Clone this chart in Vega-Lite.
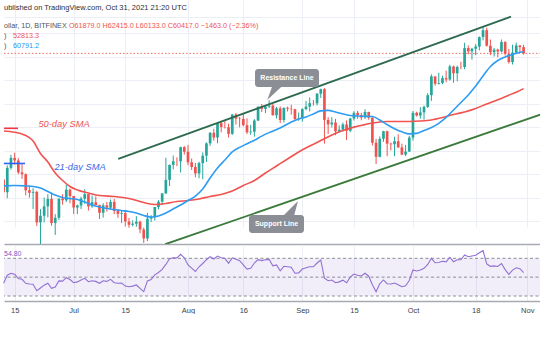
{
  "$schema": "https://vega.github.io/schema/vega-lite/v6.json",
  "padding": 0,
  "background": "white",
  "spacing": 2,
  "bounds": "flush",
  "config": {"view": {"stroke": null}, "font": "Liberation Sans"},
  "resolve": {"scale": {"x": "independent", "y": "independent"}},
  "datasets": {
    "candles": [
      {"d":"2021-06-12","o":37330,"h":37450,"l":34600,"c":35550,"r":43.5},
      {"d":"2021-06-13","o":35550,"h":39390,"l":34760,"c":39020,"r":52},
      {"d":"2021-06-14","o":39020,"h":41000,"l":38750,"c":40530,"r":54},
      {"d":"2021-06-15","o":40530,"h":41330,"l":39510,"c":40140,"r":53},
      {"d":"2021-06-16","o":40140,"h":40500,"l":38120,"c":38350,"r":48.5},
      {"d":"2021-06-17","o":38350,"h":39560,"l":37400,"c":38090,"r":47.7},
      {"d":"2021-06-18","o":38090,"h":38200,"l":35130,"c":35820,"r":43.5},
      {"d":"2021-06-19","o":35820,"h":36460,"l":34820,"c":35480,"r":42.8},
      {"d":"2021-06-20","o":35480,"h":36100,"l":33350,"c":35600,"r":42.5},
      {"d":"2021-06-21","o":35600,"h":35740,"l":31260,"c":31680,"r":35.6},
      {"d":"2021-06-22","o":31680,"h":33330,"l":28800,"c":32500,"r":38.5},
      {"d":"2021-06-23","o":32500,"h":34840,"l":31700,"c":33690,"r":41.5},
      {"d":"2021-06-24","o":33690,"h":35290,"l":32300,"c":34660,"r":43.5},
      {"d":"2021-06-25","o":34660,"h":35500,"l":31280,"c":31600,"r":38.2},
      {"d":"2021-06-26","o":31600,"h":32700,"l":30200,"c":32250,"r":39.5},
      {"d":"2021-06-27","o":32250,"h":34700,"l":32000,"c":34700,"r":46},
      {"d":"2021-06-28","o":34700,"h":35280,"l":33900,"c":34480,"r":45.8},
      {"d":"2021-06-29","o":34480,"h":36600,"l":34240,"c":35900,"r":49.4},
      {"d":"2021-06-30","o":35900,"h":36060,"l":34080,"c":35040,"r":47.5},
      {"d":"2021-07-01","o":35040,"h":35040,"l":32720,"c":33540,"r":44.1},
      {"d":"2021-07-02","o":33540,"h":33920,"l":32700,"c":33800,"r":45},
      {"d":"2021-07-03","o":33800,"h":34950,"l":33350,"c":34690,"r":47},
      {"d":"2021-07-04","o":34690,"h":35950,"l":34000,"c":35290,"r":48.8},
      {"d":"2021-07-05","o":35290,"h":35290,"l":33150,"c":33690,"r":45.2},
      {"d":"2021-07-06","o":33690,"h":35100,"l":33500,"c":34220,"r":46.2},
      {"d":"2021-07-07","o":34220,"h":35000,"l":33800,"c":33860,"r":45.5},
      {"d":"2021-07-08","o":33860,"h":33900,"l":32100,"c":32870,"r":43.5},
      {"d":"2021-07-09","o":32870,"h":34100,"l":32260,"c":33810,"r":46.2},
      {"d":"2021-07-10","o":33810,"h":34250,"l":33020,"c":33510,"r":45.5},
      {"d":"2021-07-11","o":33510,"h":34580,"l":33300,"c":34260,"r":47.7},
      {"d":"2021-07-12","o":34260,"h":34650,"l":32700,"c":33090,"r":44.1},
      {"d":"2021-07-13","o":33090,"h":33330,"l":32250,"c":32730,"r":43.5},
      {"d":"2021-07-14","o":32730,"h":33110,"l":31600,"c":32820,"r":43.8},
      {"d":"2021-07-15","o":32820,"h":33180,"l":31200,"c":31790,"r":40.5},
      {"d":"2021-07-16","o":31790,"h":32230,"l":31050,"c":31400,"r":39.8},
      {"d":"2021-07-17","o":31400,"h":31930,"l":31200,"c":31530,"r":40.5},
      {"d":"2021-07-18","o":31530,"h":32450,"l":31150,"c":31780,"r":41.7},
      {"d":"2021-07-19","o":31780,"h":31890,"l":30400,"c":30840,"r":38},
      {"d":"2021-07-20","o":30840,"h":31060,"l":29300,"c":29800,"r":34.6},
      {"d":"2021-07-21","o":29800,"h":32850,"l":29500,"c":32140,"r":46},
      {"d":"2021-07-22","o":32140,"h":32580,"l":31720,"c":32300,"r":47.5},
      {"d":"2021-07-23","o":32300,"h":33600,"l":31900,"c":33600,"r":52.5},
      {"d":"2021-07-24","o":33600,"h":34500,"l":33300,"c":34290,"r":55},
      {"d":"2021-07-25","o":34290,"h":35400,"l":33900,"c":35400,"r":58.3},
      {"d":"2021-07-26","o":35400,"h":40550,"l":35300,"c":37270,"r":63.5},
      {"d":"2021-07-27","o":37270,"h":39540,"l":36400,"c":39460,"r":69.5},
      {"d":"2021-07-28","o":39460,"h":40900,"l":38800,"c":40020,"r":70.6},
      {"d":"2021-07-29","o":40020,"h":40630,"l":39270,"c":40010,"r":70.4},
      {"d":"2021-07-30","o":40010,"h":42300,"l":38330,"c":42230,"r":74.2},
      {"d":"2021-07-31","o":42230,"h":42400,"l":41050,"c":41500,"r":70.5},
      {"d":"2021-08-01","o":41500,"h":42600,"l":39420,"c":39860,"r":63},
      {"d":"2021-08-02","o":39860,"h":40440,"l":38700,"c":39150,"r":59.5},
      {"d":"2021-08-03","o":39150,"h":39780,"l":37650,"c":38200,"r":56},
      {"d":"2021-08-04","o":38200,"h":39950,"l":37510,"c":39740,"r":61},
      {"d":"2021-08-05","o":39740,"h":41400,"l":37360,"c":40880,"r":64.5},
      {"d":"2021-08-06","o":40880,"h":43000,"l":39900,"c":42840,"r":68.5},
      {"d":"2021-08-07","o":42840,"h":44700,"l":42450,"c":44620,"r":71.7},
      {"d":"2021-08-08","o":44620,"h":45300,"l":43300,"c":43810,"r":69.3},
      {"d":"2021-08-09","o":43810,"h":46450,"l":42850,"c":46290,"r":72.4},
      {"d":"2021-08-10","o":46290,"h":46700,"l":44700,"c":45600,"r":70.5},
      {"d":"2021-08-11","o":45600,"h":46780,"l":45350,"c":45560,"r":70},
      {"d":"2021-08-12","o":45560,"h":46200,"l":43800,"c":44430,"r":64.7},
      {"d":"2021-08-13","o":44430,"h":47900,"l":44250,"c":47830,"r":70.5},
      {"d":"2021-08-14","o":47830,"h":48100,"l":46050,"c":47090,"r":69},
      {"d":"2021-08-15","o":47090,"h":47400,"l":45550,"c":47030,"r":67.5},
      {"d":"2021-08-16","o":47030,"h":48050,"l":45700,"c":45930,"r":63},
      {"d":"2021-08-17","o":45930,"h":47150,"l":44400,"c":44700,"r":58.6},
      {"d":"2021-08-18","o":44700,"h":46000,"l":44250,"c":44800,"r":59.5},
      {"d":"2021-08-19","o":44800,"h":47000,"l":43950,"c":46750,"r":65},
      {"d":"2021-08-20","o":46750,"h":49300,"l":46650,"c":49300,"r":68.5},
      {"d":"2021-08-21","o":49300,"h":49800,"l":48300,"c":48880,"r":67.5},
      {"d":"2021-08-22","o":48880,"h":49500,"l":48100,"c":49290,"r":68.5},
      {"d":"2021-08-23","o":49290,"h":50500,"l":49050,"c":49500,"r":68.9},
      {"d":"2021-08-24","o":49500,"h":49850,"l":47650,"c":47700,"r":62},
      {"d":"2021-08-25","o":47700,"h":49230,"l":47120,"c":48970,"r":63},
      {"d":"2021-08-26","o":48970,"h":49350,"l":46300,"c":46850,"r":56.8},
      {"d":"2021-08-27","o":46850,"h":49150,"l":46400,"c":49070,"r":61.5},
      {"d":"2021-08-28","o":49070,"h":49300,"l":48400,"c":48900,"r":61},
      {"d":"2021-08-29","o":48900,"h":49650,"l":47800,"c":48810,"r":60.5},
      {"d":"2021-08-30","o":48810,"h":48900,"l":46900,"c":46990,"r":54.1},
      {"d":"2021-08-31","o":46990,"h":48200,"l":46700,"c":47140,"r":54.5},
      {"d":"2021-09-01","o":47140,"h":49000,"l":46550,"c":48840,"r":58.6},
      {"d":"2021-09-02","o":48840,"h":50400,"l":48620,"c":49300,"r":60},
      {"d":"2021-09-03","o":49300,"h":51050,"l":48400,"c":49960,"r":61.1},
      {"d":"2021-09-04","o":49960,"h":50560,"l":49500,"c":49920,"r":61},
      {"d":"2021-09-05","o":49920,"h":51900,"l":49500,"c":51800,"r":65},
      {"d":"2021-09-06","o":51800,"h":52800,"l":50970,"c":52700,"r":68.2},
      {"d":"2021-09-07","o":52700,"h":52900,"l":42800,"c":46860,"r":48.8},
      {"d":"2021-09-08","o":46860,"h":47350,"l":44400,"c":46070,"r":46.2},
      {"d":"2021-09-09","o":46070,"h":47360,"l":45520,"c":46400,"r":47},
      {"d":"2021-09-10","o":46400,"h":47050,"l":44200,"c":44850,"r":44.1},
      {"d":"2021-09-11","o":44850,"h":45900,"l":44700,"c":45160,"r":45},
      {"d":"2021-09-12","o":45160,"h":46400,"l":44800,"c":46060,"r":46.8},
      {"d":"2021-09-13","o":46060,"h":46780,"l":43400,"c":44960,"r":44.1},
      {"d":"2021-09-14","o":44960,"h":47250,"l":44700,"c":47100,"r":50},
      {"d":"2021-09-15","o":47100,"h":48450,"l":46750,"c":48150,"r":53.3},
      {"d":"2021-09-16","o":48150,"h":48500,"l":47050,"c":47750,"r":52},
      {"d":"2021-09-17","o":47750,"h":48150,"l":46800,"c":47290,"r":51.2},
      {"d":"2021-09-18","o":47290,"h":48800,"l":47050,"c":48300,"r":54.1},
      {"d":"2021-09-19","o":48300,"h":48350,"l":46900,"c":47250,"r":51},
      {"d":"2021-09-20","o":47250,"h":47350,"l":42500,"c":42950,"r":42},
      {"d":"2021-09-21","o":42950,"h":43600,"l":39600,"c":40700,"r":34.6},
      {"d":"2021-09-22","o":40700,"h":44000,"l":40600,"c":43600,"r":43},
      {"d":"2021-09-23","o":43600,"h":44950,"l":43100,"c":44880,"r":47},
      {"d":"2021-09-24","o":44880,"h":45000,"l":40800,"c":42800,"r":43},
      {"d":"2021-09-25","o":42800,"h":42950,"l":41700,"c":42700,"r":42.7},
      {"d":"2021-09-26","o":42700,"h":43950,"l":40800,"c":43200,"r":43.8},
      {"d":"2021-09-27","o":43200,"h":44350,"l":42100,"c":42200,"r":42},
      {"d":"2021-09-28","o":42200,"h":42800,"l":40950,"c":41050,"r":39.9},
      {"d":"2021-09-29","o":41050,"h":42600,"l":40800,"c":41530,"r":40.8},
      {"d":"2021-09-30","o":41530,"h":44100,"l":41450,"c":43800,"r":46.5},
      {"d":"2021-10-01","o":43800,"h":48500,"l":43300,"c":48150,"r":57.6},
      {"d":"2021-10-02","o":48150,"h":48350,"l":47450,"c":47650,"r":56.5},
      {"d":"2021-10-03","o":47650,"h":49200,"l":47100,"c":48230,"r":57.5},
      {"d":"2021-10-04","o":48230,"h":49500,"l":46900,"c":49250,"r":59.4},
      {"d":"2021-10-05","o":49250,"h":51900,"l":49050,"c":51500,"r":63.5},
      {"d":"2021-10-06","o":51500,"h":55750,"l":50400,"c":55340,"r":70},
      {"d":"2021-10-07","o":55340,"h":55350,"l":53400,"c":53800,"r":65.3},
      {"d":"2021-10-08","o":53800,"h":56100,"l":53650,"c":53960,"r":65.6},
      {"d":"2021-10-09","o":53960,"h":55500,"l":53700,"c":54960,"r":66.8},
      {"d":"2021-10-10","o":54960,"h":56550,"l":54100,"c":54680,"r":66.2},
      {"d":"2021-10-11","o":54680,"h":57850,"l":54450,"c":57480,"r":71.1},
      {"d":"2021-10-12","o":57480,"h":57650,"l":54000,"c":56000,"r":66.4},
      {"d":"2021-10-13","o":56000,"h":57650,"l":54300,"c":57370,"r":68.5},
      {"d":"2021-10-14","o":57370,"h":58500,"l":56850,"c":57350,"r":68.4},
      {"d":"2021-10-15","o":57350,"h":62900,"l":56850,"c":61650,"r":73.5},
      {"d":"2021-10-16","o":61650,"h":62300,"l":60200,"c":60880,"r":71.7},
      {"d":"2021-10-17","o":60880,"h":61700,"l":59000,"c":61500,"r":72.5},
      {"d":"2021-10-18","o":61500,"h":62600,"l":60000,"c":62000,"r":73.2},
      {"d":"2021-10-19","o":62000,"h":64450,"l":61100,"c":64300,"r":75.8},
      {"d":"2021-10-20","o":64300,"h":67000,"l":63500,"c":66000,"r":78.1},
      {"d":"2021-10-21","o":66000,"h":66650,"l":62000,"c":62200,"r":64},
      {"d":"2021-10-22","o":62200,"h":63700,"l":60000,"c":60700,"r":61.5},
      {"d":"2021-10-23","o":60700,"h":61700,"l":59700,"c":61300,"r":62},
      {"d":"2021-10-24","o":61300,"h":61500,"l":59550,"c":60850,"r":61.3},
      {"d":"2021-10-25","o":60850,"h":63700,"l":60650,"c":63080,"r":64.5},
      {"d":"2021-10-26","o":63080,"h":63300,"l":59900,"c":60330,"r":58},
      {"d":"2021-10-27","o":60330,"h":61450,"l":58100,"c":58450,"r":53},
      {"d":"2021-10-28","o":58450,"h":62450,"l":57900,"c":60600,"r":57.5},
      {"d":"2021-10-29","o":60600,"h":62950,"l":60200,"c":62270,"r":60},
      {"d":"2021-10-30","o":62270,"h":62300,"l":60750,"c":61880,"r":59},
      {"d":"2021-10-31","o":61879,"h":62415,"l":60133,"c":60417,"r":54.8}
    ],
    "sma21": [
      {"d":"2021-06-12","v":36420},{"d":"2021-06-15","v":36480},{"d":"2021-06-18","v":36420},
      {"d":"2021-06-20","v":36340},{"d":"2021-06-22","v":36130},{"d":"2021-06-24","v":35650},
      {"d":"2021-06-26","v":35180},{"d":"2021-06-28","v":34850},{"d":"2021-06-30","v":34710},
      {"d":"2021-07-02","v":34580},{"d":"2021-07-04","v":34250},{"d":"2021-07-06","v":33860},
      {"d":"2021-07-08","v":33600},{"d":"2021-07-10","v":33410},{"d":"2021-07-12","v":33280},
      {"d":"2021-07-14","v":33150},{"d":"2021-07-16","v":33030},{"d":"2021-07-18","v":32840},
      {"d":"2021-07-20","v":32530},{"d":"2021-07-22","v":32340},{"d":"2021-07-24","v":32460},
      {"d":"2021-07-26","v":32840},{"d":"2021-07-28","v":33350},{"d":"2021-07-30","v":33860},
      {"d":"2021-08-01","v":34440},{"d":"2021-08-03","v":35040},{"d":"2021-08-05","v":35990},
      {"d":"2021-08-07","v":37540},{"d":"2021-08-09","v":39000},{"d":"2021-08-11","v":40210},
      {"d":"2021-08-13","v":41460},{"d":"2021-08-15","v":42200},{"d":"2021-08-17","v":42780},
      {"d":"2021-08-19","v":43360},{"d":"2021-08-21","v":44050},{"d":"2021-08-23","v":44640},
      {"d":"2021-08-25","v":45160},{"d":"2021-08-27","v":45780},{"d":"2021-08-29","v":46490},
      {"d":"2021-08-31","v":47030},{"d":"2021-09-02","v":47400},{"d":"2021-09-04","v":47940},
      {"d":"2021-09-06","v":48500},{"d":"2021-09-08","v":48590},{"d":"2021-09-10","v":48310},
      {"d":"2021-09-12","v":47940},{"d":"2021-09-14","v":47660},{"d":"2021-09-16","v":47570},
      {"d":"2021-09-18","v":47510},{"d":"2021-09-20","v":47480},{"d":"2021-09-22","v":46850},
      {"d":"2021-09-24","v":46030},{"d":"2021-09-26","v":45310},{"d":"2021-09-28","v":44780},
      {"d":"2021-09-30","v":44430},{"d":"2021-10-02","v":44510},{"d":"2021-10-04","v":45000},
      {"d":"2021-10-06","v":45520},{"d":"2021-10-08","v":46260},{"d":"2021-10-10","v":47300},
      {"d":"2021-10-12","v":48670},{"d":"2021-10-14","v":50080},{"d":"2021-10-16","v":51550},
      {"d":"2021-10-18","v":53340},{"d":"2021-10-20","v":55420},{"d":"2021-10-22","v":57460},
      {"d":"2021-10-24","v":58800},{"d":"2021-10-26","v":59600},{"d":"2021-10-28","v":60180},
      {"d":"2021-10-30","v":60660},{"d":"2021-10-31","v":60791.2}
    ],
    "sma50": [
      {"d":"2021-06-12","v":44920},{"d":"2021-06-17","v":44400},{"d":"2021-06-20","v":43240},
      {"d":"2021-06-22","v":41220},{"d":"2021-06-24","v":39900},{"d":"2021-06-26","v":38260},
      {"d":"2021-06-28","v":37180},{"d":"2021-06-30","v":36340},{"d":"2021-07-02","v":35860},
      {"d":"2021-07-05","v":35450},{"d":"2021-07-08","v":35110},{"d":"2021-07-12","v":34980},
      {"d":"2021-07-16","v":34710},{"d":"2021-07-20","v":34180},{"d":"2021-07-23","v":33920},
      {"d":"2021-07-26","v":34050},{"d":"2021-07-29","v":34310},{"d":"2021-08-01","v":34440},
      {"d":"2021-08-04","v":34640},{"d":"2021-08-07","v":34980},{"d":"2021-08-10","v":35250},
      {"d":"2021-08-13","v":35720},{"d":"2021-08-16","v":36480},{"d":"2021-08-19","v":37180},
      {"d":"2021-08-22","v":38260},{"d":"2021-08-25","v":39300},{"d":"2021-08-28","v":40370},
      {"d":"2021-08-31","v":41460},{"d":"2021-09-03","v":42420},{"d":"2021-09-06","v":43310},
      {"d":"2021-09-09","v":44240},{"d":"2021-09-12","v":45000},{"d":"2021-09-15","v":45590},
      {"d":"2021-09-18","v":46030},{"d":"2021-09-21","v":46390},{"d":"2021-09-24","v":46580},
      {"d":"2021-09-27","v":46580},{"d":"2021-09-30","v":46580},{"d":"2021-10-03","v":46660},
      {"d":"2021-10-06","v":46850},{"d":"2021-10-09","v":47290},{"d":"2021-10-12","v":47840},
      {"d":"2021-10-15","v":48300},{"d":"2021-10-18","v":48950},{"d":"2021-10-21","v":49800},
      {"d":"2021-10-24","v":50600},{"d":"2021-10-27","v":51500},{"d":"2021-10-29","v":52100},
      {"d":"2021-10-31","v":52813.3}
    ],
    "lines": [
      {"g":"res","d":"2021-07-13T02:24:00Z","p":40370},
      {"g":"res","d":"2021-10-27T13:55:00Z","p":69500},
      {"g":"sup","d":"2021-07-25T20:10:00Z","p":29150},
      {"g":"sup","d":"2021-11-05T12:45:00Z","p":48060},
      {"g":"red","d":"2021-06-12T02:40:00Z","p":45380},
      {"g":"red","d":"2021-06-15T21:43:00Z","p":45380},
      {"g":"blue","d":"2021-06-12T02:40:00Z","p":39680},
      {"g":"blue","d":"2021-06-17T19:14:00Z","p":39680}
    ],
    "pointers": [
      {"g":"r","d":"2021-08-22T12:00:00Z","a":50570,"b":50570},
      {"g":"r","d":"2021-08-23T20:40:00Z","a":53350,"b":51480},
      {"g":"r","d":"2021-08-26T13:40:00Z","a":53350,"b":53350},
      {"g":"s","d":"2021-08-26T18:14:00Z","a":32470,"b":32470},
      {"g":"s","d":"2021-08-29T17:46:00Z","a":32470,"b":33860},
      {"g":"s","d":"2021-08-30T19:55:00Z","a":34380,"b":34380}
    ]
  },
  "vconcat": [
    {
      "width": 540,
      "height": 244,
      "layer": [
        {
          "data": {"values": [{}]},
          "mark": {"type": "rule", "color": "#ef5350", "strokeDash": [1.5, 2], "strokeWidth": 1, "opacity": 0.85},
          "encoding": {
            "x": {
              "datum": {"year": 2021, "month": 6, "date": 12, "hours": 2, "minutes": 40, "utc": true},
              "type": "temporal",
              "scale": {
                "type": "utc",
                "domain": [
                  {"year": 2021, "month": 6, "date": 12, "hours": 2, "minutes": 40, "utc": true},
                  {"year": 2021, "month": 11, "date": 5, "hours": 12, "minutes": 45, "utc": true}
                ],
                "nice": false
              },
              "axis": {
                "title": null,
                "labels": false,
                "ticks": false,
                "grid": true,
                "gridColor": "#ebeff5",
                "domain": true,
                "domainColor": "#a7aab2",
                "domainWidth": 1.5,
                "values": [
                  {"year": 2021, "month": 6, "date": 15, "utc": true},
                  {"year": 2021, "month": 7, "date": 1, "utc": true},
                  {"year": 2021, "month": 7, "date": 15, "utc": true},
                  {"year": 2021, "month": 8, "date": 1, "utc": true},
                  {"year": 2021, "month": 8, "date": 16, "utc": true},
                  {"year": 2021, "month": 9, "date": 1, "utc": true},
                  {"year": 2021, "month": 9, "date": 15, "utc": true},
                  {"year": 2021, "month": 10, "date": 1, "utc": true},
                  {"year": 2021, "month": 10, "date": 18, "utc": true},
                  {"year": 2021, "month": 11, "date": 1, "utc": true}
                ]
              }
            },
            "x2": {"datum": {"year": 2021, "month": 11, "date": 5, "hours": 12, "minutes": 45, "utc": true}},
            "y": {
              "datum": 60417,
              "type": "quantitative",
              "scale": {"type": "log", "domain": [29175, 69420], "range": [244, 17], "nice": false, "zero": false},
              "axis": {
                "title": null,
                "orient": "right",
                "labels": false,
                "ticks": false,
                "domain": false,
                "grid": true,
                "gridColor": "#ebeff5",
                "values": [31860, 34840, 38120, 41690, 45610, 49890, 54580, 59700, 65300, 69420]
              }
            }
          }
        },
        {
          "data": {"name": "candles"},
          "mark": {"type": "rule", "clip": true, "strokeWidth": 1},
          "encoding": {
            "x": {"field": "d", "type": "temporal"},
            "y": {"field": "l", "type": "quantitative"},
            "y2": {"field": "h"},
            "color": {"condition": {"test": "datum.c >= datum.o", "value": "#26a69a"}, "value": "#ef5350"}
          }
        },
        {
          "data": {"name": "candles"},
          "mark": {"type": "rule", "clip": true, "strokeWidth": 2.7},
          "encoding": {
            "x": {"field": "d", "type": "temporal"},
            "y": {"field": "o", "type": "quantitative"},
            "y2": {"field": "c"},
            "color": {"condition": {"test": "datum.c >= datum.o", "value": "#26a69a"}, "value": "#ef5350"}
          }
        },
        {
          "data": {"name": "sma50"},
          "mark": {"type": "line", "clip": true, "color": "#f05350", "strokeWidth": 1.6, "interpolate": "monotone"},
          "encoding": {
            "x": {"field": "d", "type": "temporal"},
            "y": {"field": "v", "type": "quantitative"}
          }
        },
        {
          "data": {"name": "sma21"},
          "mark": {"type": "line", "clip": true, "color": "#2e9cf3", "strokeWidth": 1.6, "interpolate": "monotone"},
          "encoding": {
            "x": {"field": "d", "type": "temporal"},
            "y": {"field": "v", "type": "quantitative"}
          }
        },
        {
          "data": {"name": "lines"},
          "transform": [{"filter": "datum.g == 'res'"}],
          "mark": {"type": "line", "clip": true, "color": "#2d6a4f", "strokeWidth": 1.8},
          "encoding": {
            "x": {"field": "d", "type": "temporal"},
            "y": {"field": "p", "type": "quantitative"}
          }
        },
        {
          "data": {"name": "lines"},
          "transform": [{"filter": "datum.g == 'sup'"}],
          "mark": {"type": "line", "clip": true, "color": "#3b7a3b", "strokeWidth": 1.8},
          "encoding": {
            "x": {"field": "d", "type": "temporal"},
            "y": {"field": "p", "type": "quantitative"}
          }
        },
        {
          "data": {"name": "lines"},
          "transform": [{"filter": "datum.g == 'red'"}],
          "mark": {"type": "line", "color": "#f23645", "strokeWidth": 1.6},
          "encoding": {
            "x": {"field": "d", "type": "temporal"},
            "y": {"field": "p", "type": "quantitative"}
          }
        },
        {
          "data": {"name": "lines"},
          "transform": [{"filter": "datum.g == 'blue'"}],
          "mark": {"type": "line", "color": "#2962ff", "strokeWidth": 1.6},
          "encoding": {
            "x": {"field": "d", "type": "temporal"},
            "y": {"field": "p", "type": "quantitative"}
          }
        },
        {
          "data": {"name": "pointers"},
          "mark": {"type": "area", "color": "#8b8e95", "opacity": 1},
          "encoding": {
            "x": {"field": "d", "type": "temporal"},
            "y": {"field": "a", "type": "quantitative"},
            "y2": {"field": "b"},
            "detail": {"field": "g"}
          }
        },
        {
          "data": {"values": [{}]},
          "mark": {"type": "rect", "color": "#8b8e95", "cornerRadius": 3},
          "encoding": {
            "x": {"datum": {"year": 2021, "month": 8, "date": 19, "hours": 4, "minutes": 4, "utc": true}, "type": "temporal"},
            "x2": {"datum": {"year": 2021, "month": 9, "date": 5, "hours": 12, "minutes": 29, "utc": true}},
            "y": {"datum": 56920, "type": "quantitative"},
            "y2": {"datum": 53150}
          }
        },
        {
          "data": {"values": [{}]},
          "mark": {"type": "rect", "color": "#8b8e95", "cornerRadius": 3},
          "encoding": {
            "x": {"datum": {"year": 2021, "month": 8, "date": 17, "hours": 12, "minutes": 57, "utc": true}, "type": "temporal"},
            "x2": {"datum": {"year": 2021, "month": 9, "date": 1, "hours": 10, "minutes": 50, "utc": true}},
            "y": {"datum": 32590, "type": "quantitative"},
            "y2": {"datum": 30430}
          }
        },
        {
          "data": {"values": [{}]},
          "mark": {"type": "text", "color": "white", "fontWeight": "bold", "fontSize": 7, "align": "center", "baseline": "middle"},
          "encoding": {
            "x": {"datum": {"year": 2021, "month": 8, "date": 27, "hours": 20, "minutes": 10, "utc": true}, "type": "temporal"},
            "y": {"datum": 54990, "type": "quantitative"},
            "text": {"value": "Resistance Line"}
          }
        },
        {
          "data": {"values": [{}]},
          "mark": {"type": "text", "color": "white", "fontWeight": "bold", "fontSize": 7, "align": "center", "baseline": "middle"},
          "encoding": {
            "x": {"datum": {"year": 2021, "month": 8, "date": 25, "utc": true}, "type": "temporal"},
            "y": {"datum": 31500, "type": "quantitative"},
            "text": {"value": "Support Line"}
          }
        },
        {
          "data": {"values": [{}]},
          "mark": {"type": "text", "color": "#f0524f", "fontStyle": "italic", "fontSize": 9.3, "align": "center", "baseline": "middle"},
          "encoding": {
            "x": {"datum": {"year": 2021, "month": 6, "date": 28, "hours": 9, "minutes": 7, "utc": true}, "type": "temporal"},
            "y": {"datum": 46130, "type": "quantitative"},
            "text": {"value": "50-day SMA"}
          }
        },
        {
          "data": {"values": [{}]},
          "mark": {"type": "text", "color": "#3a66e8", "fontStyle": "italic", "fontSize": 9.3, "align": "center", "baseline": "middle"},
          "encoding": {
            "x": {"datum": {"year": 2021, "month": 7, "date": 2, "hours": 17, "minutes": 15, "utc": true}, "type": "temporal"},
            "y": {"datum": 39220, "type": "quantitative"},
            "text": {"value": "21-day SMA"}
          }
        },
        {
          "data": {"values": [{}]},
          "mark": {"type": "text", "color": "#2a2e39", "fontSize": 7.5, "align": "left", "baseline": "middle"},
          "encoding": {
            "x": {"datum": {"year": 2021, "month": 6, "date": 12, "hours": 2, "minutes": 40, "utc": true}, "type": "temporal"},
            "y": {"datum": 71850, "type": "quantitative"},
            "text": {"value": "ublished on TradingView.com, Oct 31, 2021 21:20 UTC"}
          }
        },
        {
          "data": {"values": [{}]},
          "mark": {"type": "text", "color": "#50535e", "fontSize": 7.2, "align": "left", "baseline": "middle"},
          "encoding": {
            "x": {"datum": {"year": 2021, "month": 6, "date": 12, "hours": 2, "minutes": 40, "utc": true}, "type": "temporal"},
            "y": {"datum": 67150, "type": "quantitative"},
            "text": {"value": "ollar, 1D, BITFINEX"}
          }
        },
        {
          "data": {"values": [{}]},
          "mark": {"type": "text", "color": "#ef5350", "fontSize": 7.2, "align": "left", "baseline": "middle"},
          "encoding": {
            "x": {"datum": {"year": 2021, "month": 6, "date": 29, "hours": 17, "minutes": 31, "utc": true}, "type": "temporal"},
            "y": {"datum": 67150, "type": "quantitative"},
            "text": {"value": "O61879.0  H62415.0  L60133.0  C60417.0  −1463.0 (−2.36%)"}
          }
        },
        {
          "data": {"values": [{}]},
          "mark": {"type": "text", "color": "#50535e", "fontSize": 7.2, "align": "left", "baseline": "middle"},
          "encoding": {
            "x": {"datum": {"year": 2021, "month": 6, "date": 12, "hours": 2, "minutes": 40, "utc": true}, "type": "temporal"},
            "y": {"datum": 64640, "type": "quantitative"},
            "text": {"value": ")"}
          }
        },
        {
          "data": {"values": [{}]},
          "mark": {"type": "text", "color": "#ef5350", "fontSize": 7.2, "align": "left", "baseline": "middle"},
          "encoding": {
            "x": {"datum": {"year": 2021, "month": 6, "date": 14, "hours": 13, "minutes": 10, "utc": true}, "type": "temporal"},
            "y": {"datum": 64640, "type": "quantitative"},
            "text": {"value": "52813.3"}
          }
        },
        {
          "data": {"values": [{}]},
          "mark": {"type": "text", "color": "#50535e", "fontSize": 7.2, "align": "left", "baseline": "middle"},
          "encoding": {
            "x": {"datum": {"year": 2021, "month": 6, "date": 12, "hours": 2, "minutes": 40, "utc": true}, "type": "temporal"},
            "y": {"datum": 62030, "type": "quantitative"},
            "text": {"value": ")"}
          }
        },
        {
          "data": {"values": [{}]},
          "mark": {"type": "text", "color": "#2196f3", "fontSize": 7.2, "align": "left", "baseline": "middle"},
          "encoding": {
            "x": {"datum": {"year": 2021, "month": 6, "date": 14, "hours": 13, "minutes": 10, "utc": true}, "type": "temporal"},
            "y": {"datum": 62030, "type": "quantitative"},
            "text": {"value": "60791.2"}
          }
        }
      ]
    },
    {
      "width": 540,
      "height": 55,
      "layer": [
        {
          "data": {"values": [{}]},
          "mark": {"type": "rect", "color": "#7e57c2", "opacity": 0.1},
          "encoding": {
            "y": {"datum": 70, "type": "quantitative", "scale": {"domain": [24.7, 83.05], "nice": false, "zero": false}, "axis": null},
            "y2": {"datum": 30}
          }
        },
        {
          "data": {"values": [{"lvl": 70}, {"lvl": 50}, {"lvl": 30}]},
          "mark": {"type": "rule", "color": "#8a8d96", "strokeDash": [3, 2.5], "strokeWidth": 1},
          "encoding": {
            "y": {"field": "lvl", "type": "quantitative"}
          }
        },
        {
          "data": {"name": "candles"},
          "mark": {"type": "line", "color": "#9070d4", "strokeWidth": 1.1},
          "encoding": {
            "x": {
              "field": "d",
              "type": "temporal",
              "scale": {
                "type": "utc",
                "domain": [
                  {"year": 2021, "month": 6, "date": 12, "hours": 2, "minutes": 40, "utc": true},
                  {"year": 2021, "month": 11, "date": 5, "hours": 12, "minutes": 45, "utc": true}
                ],
                "nice": false
              },
              "axis": {
                "title": null,
                "ticks": false,
                "grid": true,
                "gridColor": "#ebeff5",
                "domain": true,
                "domainColor": "#a7aab2",
                "domainWidth": 1.5,
                "labelFont": "Liberation Sans",
                "labelFontSize": 7.5,
                "labelColor": "#3c3f48",
                "labelPadding": 5,
                "labelOverlap": false,
                "labelFlush": false,
                "labelExpr": "utcdate(datum.value) == 1 ? utcFormat(datum.value, '%b') : utcFormat(datum.value, '%-d')",
                "values": [
                  {"year": 2021, "month": 6, "date": 15, "utc": true},
                  {"year": 2021, "month": 7, "date": 1, "utc": true},
                  {"year": 2021, "month": 7, "date": 15, "utc": true},
                  {"year": 2021, "month": 8, "date": 1, "utc": true},
                  {"year": 2021, "month": 8, "date": 16, "utc": true},
                  {"year": 2021, "month": 9, "date": 1, "utc": true},
                  {"year": 2021, "month": 9, "date": 15, "utc": true},
                  {"year": 2021, "month": 10, "date": 1, "utc": true},
                  {"year": 2021, "month": 10, "date": 18, "utc": true},
                  {"year": 2021, "month": 11, "date": 1, "utc": true}
                ]
              }
            },
            "y": {"field": "r", "type": "quantitative"}
          }
        },
        {
          "data": {"values": [{}]},
          "mark": {"type": "text", "color": "#7e57c2", "fontSize": 7, "align": "left", "baseline": "middle"},
          "encoding": {
            "x": {"datum": {"year": 2021, "month": 6, "date": 12, "hours": 2, "minutes": 40, "utc": true}, "type": "temporal"},
            "y": {"datum": 74.6, "type": "quantitative"},
            "text": {"value": "54.80"}
          }
        }
      ]
    }
  ]
}
